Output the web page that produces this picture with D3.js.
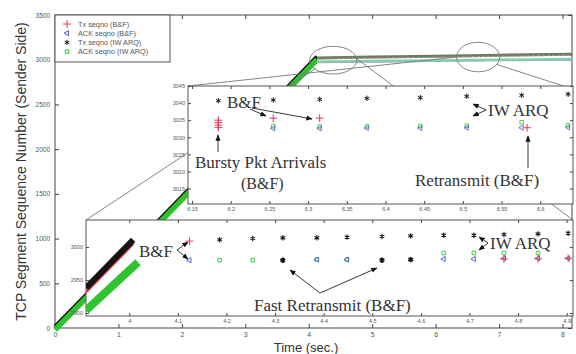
<!DOCTYPE html>
<html>
<head>
<meta charset="utf-8">
<script src="https://cdn.jsdelivr.net/npm/d3@7"></script>
<style>
  body { margin: 0; background: #fff; }
  svg { display: block; }
  text { font-family: "Liberation Sans", Arial, sans-serif; }
  .ann { font-family: "Liberation Serif", "Times New Roman", serif; fill: #333; font-size: 17px; }
</style>
</head>
<body>
<svg id="chart" width="576" height="354"></svg>
<script>
// ---- main plot ----
const mainXTicks = [0, 1, 2, 3, 4, 5, 6, 7, 8];
const mainYTicks = [0, 500, 1000, 1500, 2000, 2500, 3000, 3500];
const riseT = [0, 1, 2, 3, 4.13];
const riseSeq = [0, 725, 1455, 2190, 3020];
const flatT = [4.13, 5, 6, 7, 8.15];
const flatTxSeq = [3020, 3030, 3040, 3050, 3062];
const flatAckSeq = [2978, 2985, 2992, 3000, 3008];

// ---- legend ----
const legendLabels = ['Tx seqno (B&F)', 'ACK seqno (B&F)', 'Tx seqno (IW ARQ)', 'ACK seqno (IW ARQ)'];

// ---- top inset (zoom on ~6.2 s) ----
const topXTicks = [6.15, 6.2, 6.25, 6.3, 6.35, 6.4, 6.45, 6.5, 6.55, 6.6];
const topYTicks = [3015, 3020, 3025, 3030, 3035, 3040, 3045];
const topTxIwT = [6.184, 6.255, 6.315, 6.376, 6.445, 6.505, 6.576, 6.636];
const topTxIwSeq = [3040.7, 3040.9, 3041.1, 3041.4, 3041.6, 3042.0, 3042.3, 3042.6];
const topTxBfT = [6.184, 6.184, 6.184, 6.184, 6.255, 6.315, 6.583];
const topTxBfSeq = [3032.9, 3033.6, 3034.3, 3035.0, 3035.6, 3035.6, 3032.8];
const topAckT = [6.255, 6.315, 6.376, 6.445, 6.505, 6.576, 6.636];
const topAckIwSeq = [3033.2, 3033.2, 3033.2, 3033.3, 3033.4, 3034.4, 3033.5];
const topAckBfSeq = [3032.6, 3032.6, 3032.7, 3032.7, 3032.8, 3032.8, 3032.9];

// ---- bottom inset (zoom on ~4.0 - 4.9 s) ----
const botXTicks = [4, 4.1, 4.2, 4.3, 4.4, 4.5, 4.6, 4.7, 4.8, 4.9];
const botYTicks = [2900, 2950, 3000];
const botRiseTxT = [3.911, 4.008];
const botRiseTxSeq = [2938, 3011];
const botRiseAckT = [3.911, 4.018];
const botRiseAckSeq = [2904, 2977];
const botTxIwT = [4.186, 4.254, 4.316, 4.386, 4.448, 4.52, 4.579, 4.647, 4.709, 4.771, 4.841, 4.903];
const botTxIwSeq = [3011, 3013, 3014, 3014, 3015, 3016, 3017, 3018, 3018, 3019, 3020, 3021];
const botTxBfT = [4.124, 4.771, 4.841, 4.903];
const botTxBfSeq = [3009, 2982, 2982, 2983];
const botRetxT = [4.316, 4.52, 4.579];
const botRetxSeq = [2980, 2980, 2981];
const botAckBfT = [4.124, 4.386, 4.448, 4.647, 4.709, 4.771, 4.841, 4.903];
const botAckBfSeq = [2980, 2981, 2981, 2982, 2982, 2983, 2983, 2983];
const botAckIwT = [4.186, 4.254, 4.386, 4.448, 4.647, 4.709, 4.771, 4.841];
const botAckIwSeq = [2980, 2980, 2981, 2981, 2991, 2991, 2991, 2991];

const RED = '#e23a4e', BLUE = '#4257d6', BLACK = '#151515', GREEN = '#2fc42f';

const svg = d3.select('#chart');
const defs = svg.append('defs');
defs.append('marker')
    .attr('id', 'arr')
    .attr('viewBox', '0 0 10 10')
    .attr('refX', 9).attr('refY', 5)
    .attr('markerWidth', 7).attr('markerHeight', 7)
    .attr('orient', 'auto')
    .append('path').attr('d', 'M0,1L10,5L0,9Z').attr('fill', '#111');

const x = d3.scaleLinear().domain([0, 8.15]).range([55, 572]);
const y = d3.scaleLinear().domain([0, 3500]).range([328, 15]);

// marker drawing helper
function sym(type) {
    if (type === 'plus') return d3.symbol(d3.symbolPlus, 22)();
    if (type === 'tri') return d3.symbol(d3.symbolTriangle2, 18)();
    if (type === 'star') return d3.symbol(d3.symbolAsterisk, 20)();
    return d3.symbol(d3.symbolSquare2, 16)();
}
const symColor = { plus: RED, tri: BLUE, star: BLACK, square: GREEN };
function drawMarks(g, sx, sy, ts, vs, type, width) {
    g.append('g').selectAll('path')
        .data(ts.map((t, i) => [t, vs[i]]))
        .join('path')
        .attr('d', sym(type))
        .attr('transform', d => `translate(${sx(d[0])},${sy(d[1])})` + (type === 'tri' ? ' rotate(-90)' : ''))
        .attr('fill', 'none')
        .attr('stroke', symColor[type])
        .attr('stroke-width', width || 1);
}

// axes (ticks point inward)
function styleAxis(g) {
    g.select('.domain').remove();
    g.selectAll('line').attr('stroke', '#444');
    g.selectAll('text').attr('fill', '#555');
}
const intFmt = d3.format('d');
svg.append('g').attr('transform', `translate(0,${y(0)})`)
    .call(d3.axisBottom(x).tickValues(mainXTicks).tickSize(-4).tickPadding(4).tickFormat(intFmt))
    .attr('font-size', 7).call(styleAxis);
svg.append('g').attr('transform', `translate(0,${y(3500)})`)
    .call(d3.axisTop(x).tickValues(mainXTicks).tickSize(-4).tickFormat(''))
    .call(styleAxis);
svg.append('g').attr('transform', `translate(${x(0)},0)`)
    .call(d3.axisLeft(y).tickValues(mainYTicks).tickSize(-4).tickPadding(5).tickFormat(intFmt))
    .attr('font-size', 6.5).call(styleAxis);
svg.append('g').attr('transform', `translate(${x.range()[1]},0)`)
    .call(d3.axisRight(y).tickValues(mainYTicks).tickSize(-4).tickFormat(''))
    .call(styleAxis);
svg.append('rect')
    .attr('x', x.range()[0]).attr('y', y.range()[1])
    .attr('width', x.range()[1] - x.range()[0]).attr('height', y.range()[0] - y.range()[1])
    .attr('fill', 'none').attr('stroke', '#444');

// axis titles
svg.append('text')
    .attr('x', 306).attr('y', 352)
    .attr('text-anchor', 'middle').attr('font-size', 13).attr('fill', '#333')
    .text('Time (sec.)');
svg.append('text')
    .attr('transform', `translate(26,${(y.range()[0] + y.range()[1]) / 2}) rotate(-90)`)
    .attr('text-anchor', 'middle').attr('font-size', 14).attr('fill', '#333')
    .text('TCP Segment Sequence Number (Sender Side)');

// main data: rising slope then flat region
const line = (sx, sy, off) => d3.line().x(d => sx(d[0])).y(d => sy(d[1] + (off || 0)));
const risePts = riseT.map((t, i) => [t, riseSeq[i]]);
svg.append('path').datum(risePts).attr('d', line(x, y, 15)).attr('fill', 'none')
    .attr('stroke', BLACK).attr('stroke-width', 4);
svg.append('path').datum(risePts).attr('d', line(x, y, -20)).attr('fill', 'none')
    .attr('stroke', GREEN).attr('stroke-width', 5.5);
const flatAck = flatT.map((t, i) => [t, flatAckSeq[i]]);
const flatTx = flatT.map((t, i) => [t, flatTxSeq[i]]);
svg.append('path').datum(flatAck).attr('d', line(x, y, -10))
    .attr('fill', 'none').attr('stroke', '#8aa6e8').attr('stroke-width', 1.5);
svg.append('path').datum(flatAck).attr('d', line(x, y))
    .attr('fill', 'none').attr('stroke', '#8cc9a6').attr('stroke-width', 2.5);
svg.append('path').datum(flatTx).attr('d', line(x, y))
    .attr('fill', 'none').attr('stroke', '#6f7a63').attr('stroke-width', 3);
svg.append('path').datum(flatTx).attr('d', line(x, y, -12))
    .attr('fill', 'none').attr('stroke', '#9aa98e').attr('stroke-width', 1)
    .attr('stroke-dasharray', '3,2');

// zoom ellipses and connector lines (data units)
const ell1 = { t: 4.385, s: 2995, rt: 0.37, rs: 155 };
const ell2 = { t: 6.67, s: 3030, rt: 0.34, rs: 165 };
[ell1, ell2].forEach(e => {
    svg.append('ellipse')
        .attr('cx', x(e.t)).attr('cy', y(e.s))
        .attr('rx', x(e.t + e.rt) - x(e.t)).attr('ry', y(e.s) - y(e.s + e.rs))
        .attr('fill', 'none').attr('stroke', '#777').attr('stroke-width', 0.9);
});

const topBox = { x0: 188, x1: 573, y0: 86, y1: 204 };
const botBox = { x0: 86, x1: 573, y0: 220, y1: 316 };
const connectors = [
    [[botBox.x0, botBox.y0], [x(ell1.t - ell1.rt * 0.75), y(ell1.s - ell1.rs * 0.6)]],
    [[botBox.x1, botBox.y0], [x(ell1.t + ell1.rt * 0.97), y(ell1.s + ell1.rs * 0.15)]],
    [[topBox.x0, topBox.y0], [x(ell2.t - ell2.rt), y(ell2.s)]],
    [[topBox.x1, topBox.y0 + 3], [x(ell2.t + ell2.rt * 0.85), y(ell2.s - ell2.rs * 0.5)]]
];
connectors.forEach(c => {
    svg.append('line')
        .attr('x1', c[0][0]).attr('y1', c[0][1]).attr('x2', c[1][0]).attr('y2', c[1][1])
        .attr('stroke', '#777').attr('stroke-width', 0.9);
});

// inset helper
function inset(box, xDom, yDom, xTicks, yTicks, fmtX, id) {
    const sx = d3.scaleLinear().domain(xDom).range([box.x0, box.x1]);
    const sy = d3.scaleLinear().domain(yDom).range([box.y1, box.y0]);
    const g = svg.append('g');
    g.append('rect').attr('x', box.x0).attr('y', box.y0)
        .attr('width', box.x1 - box.x0).attr('height', box.y1 - box.y0)
        .attr('fill', '#fff');
    defs.append('clipPath').attr('id', id).append('rect')
        .attr('x', box.x0).attr('y', box.y0)
        .attr('width', box.x1 - box.x0).attr('height', box.y1 - box.y0);
    g.append('g').attr('transform', `translate(0,${box.y1})`)
        .call(d3.axisBottom(sx).tickValues(xTicks).tickSize(-3).tickPadding(3).tickFormat(fmtX))
        .attr('font-size', 5.5).call(styleAxis);
    g.append('g').attr('transform', `translate(0,${box.y0})`)
        .call(d3.axisTop(sx).tickValues(xTicks).tickSize(-3).tickFormat(''))
        .call(styleAxis);
    g.append('g').attr('transform', `translate(${box.x0},0)`)
        .call(d3.axisLeft(sy).tickValues(yTicks).tickSize(-3).tickPadding(3).tickFormat(intFmt))
        .attr('font-size', 5.5).call(styleAxis);
    g.append('g').attr('transform', `translate(${box.x1},0)`)
        .call(d3.axisRight(sy).tickValues(yTicks).tickSize(-3).tickFormat(''))
        .call(styleAxis);
    g.append('rect').attr('x', box.x0).attr('y', box.y0)
        .attr('width', box.x1 - box.x0).attr('height', box.y1 - box.y0)
        .attr('fill', 'none').attr('stroke', '#555');
    const plot = g.append('g').attr('clip-path', `url(#${id})`);
    return { sx, sy, plot };
}

// top inset
const T = inset(topBox, [6.1448, 6.6423], [3010.5, 3045], topXTicks, topYTicks, d => String(+d.toFixed(2)), 'clipTop');
drawMarks(T.plot, T.sx, T.sy, topAckT, topAckIwSeq, 'square', 0.8);
drawMarks(T.plot, T.sx, T.sy, topAckT, topAckBfSeq, 'tri', 0.8);
drawMarks(T.plot, T.sx, T.sy, topTxIwT, topTxIwSeq, 'star', 1);
drawMarks(T.plot, T.sx, T.sy, topTxBfT, topTxBfSeq, 'plus', 1);

// bottom inset
const B = inset(botBox, [3.911, 4.913], [2895.5, 3041], botXTicks, botYTicks, d => String(+d.toFixed(1)), 'clipBot');
B.plot.append('path').datum(botRiseAckT.map((t, i) => [t, botRiseAckSeq[i]])).attr('d', line(B.sx, B.sy))
    .attr('fill', 'none').attr('stroke', GREEN).attr('stroke-width', 8);
B.plot.append('path').datum(botRiseTxT.map((t, i) => [t, botRiseTxSeq[i]])).attr('d', line(B.sx, B.sy, -6))
    .attr('fill', 'none').attr('stroke', RED).attr('stroke-width', 3);
B.plot.append('path').datum(botRiseTxT.map((t, i) => [t, botRiseTxSeq[i]])).attr('d', line(B.sx, B.sy))
    .attr('fill', 'none').attr('stroke', BLACK).attr('stroke-width', 6);
drawMarks(B.plot, B.sx, B.sy, botAckIwT, botAckIwSeq, 'square', 0.9);
drawMarks(B.plot, B.sx, B.sy, botAckBfT, botAckBfSeq, 'tri', 0.9);
drawMarks(B.plot, B.sx, B.sy, botTxIwT, botTxIwSeq, 'star', 1.1);
drawMarks(B.plot, B.sx, B.sy, botRetxT, botRetxSeq, 'star', 1.8);
drawMarks(B.plot, B.sx, B.sy, botTxBfT, botTxBfSeq, 'plus', 1);

// annotations (text + arrows)
const annTexts = [
    ['B&F', 227, 108, 17], ['Bursty Pkt Arrivals', 195, 168, 17], ['(B&F)', 241, 189, 16],
    ['IW ARQ', 488, 116, 17], ['Retransmit (B&F)', 415, 186, 17],
    ['B&F', 139, 257, 17], ['IW ARQ', 490, 249, 17], ['Fast Retransmit (B&F)', 254, 311, 17]
];
svg.selectAll('text.ann').data(annTexts).join('text')
    .attr('class', 'ann').attr('x', d => d[1]).attr('y', d => d[2])
    .style('font-size', d => d[3] + 'px').text(d => d[0]);
const arrows = [
    [250, 109, 266, 116], [252, 108, 312, 119], [218, 152, 218, 135],
    [486, 110, 473, 104], [486, 110, 473, 116], [528, 168, 528, 136],
    [177, 250, 188, 242], [177, 250, 188, 259],
    [488, 243, 479, 237], [488, 243, 479, 250],
    [320, 293, 290, 270], [320, 293, 377, 268]
];
svg.selectAll('line.arrow').data(arrows).join('line')
    .attr('class', 'arrow')
    .attr('x1', d => d[0]).attr('y1', d => d[1]).attr('x2', d => d[2]).attr('y2', d => d[3])
    .attr('stroke', '#222').attr('stroke-width', 0.9).attr('marker-end', 'url(#arr)');

// legend
const lg = svg.append('g');
lg.append('rect').attr('x', 55).attr('y', 15).attr('width', 115).attr('height', 47)
    .attr('fill', '#fff').attr('stroke', '#555');
const legTypes = ['plus', 'tri', 'star', 'square'];
legendLabels.forEach((lab, i) => {
    const yy = 24 + i * 9.2;
    lg.append('path').attr('d', sym(legTypes[i]))
        .attr('transform', `translate(67,${yy})` + (legTypes[i] === 'tri' ? ' rotate(-90)' : ''))
        .attr('fill', 'none').attr('stroke', symColor[legTypes[i]]).attr('stroke-width', 1);
    lg.append('text').attr('x', 78).attr('y', yy + 2.5).attr('font-size', 7.3).attr('fill', '#555').text(lab);
});
</script>
</body>
</html>
